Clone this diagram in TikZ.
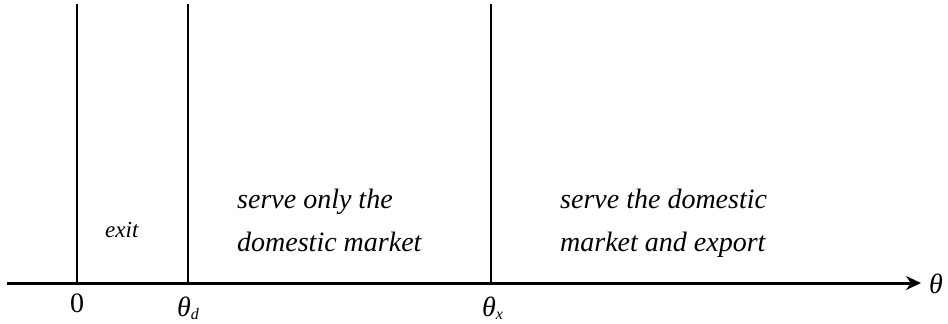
\documentclass[tikz,border=0pt]{standalone}
\usepackage{fontspec}
\setmainfont{Liberation Serif}
\usetikzlibrary{arrows.meta, positioning}

\begin{document}
\begin{tikzpicture}[x=1pt, y=-1pt, >={Stealth[length=15pt, width=14pt]},
    axis/.style={line width=3pt},
    cut/.style={line width=1.5pt},
    region/.style={font=\fontsize{28}{43}\selectfont\itshape, align=left, inner sep=0pt},
    tick/.style={font=\fontsize{28}{28}\selectfont, inner sep=0pt}]
  \useasboundingbox (0,0) rectangle (948,324);
  % axis
  \coordinate (start) at (7,283);
  \coordinate (end) at (921,283);
  \draw[axis, ->] (start) -- (end);
  \node[tick, anchor=base west] (theta) at (929,293) {\itshape θ};
  % cut-offs
  \foreach \x/\n in {77/zero, 188/thd, 491/thx}{
    \coordinate (\n top) at (\x,4);
    \coordinate (\n) at (\x,283);
    \draw[cut] (\n top) -- (\n);
  }
  \node[tick, anchor=base] (lzero) at (77,312) {0};
  \node[tick, anchor=base west] (lthd) at (177,316)
    {\itshape θ\raisebox{-3pt}{\fontsize{16}{16}\selectfont d}};
  \node[tick, anchor=base west] (lthx) at (482,316)
    {\itshape θ\raisebox{-3pt}{\fontsize{16}{16}\selectfont x}};
  % regions
  \node[region, font=\fontsize{23}{23}\selectfont\itshape, anchor=base west] (exit) at (105,237) {exit};
  \node[region, anchor=base west] (home) at (237,251) {serve only the\\domestic market};
  \node[region, anchor=base west] (export) at (560,251) {serve the domestic\\market and export};
\end{tikzpicture}
\end{document}
